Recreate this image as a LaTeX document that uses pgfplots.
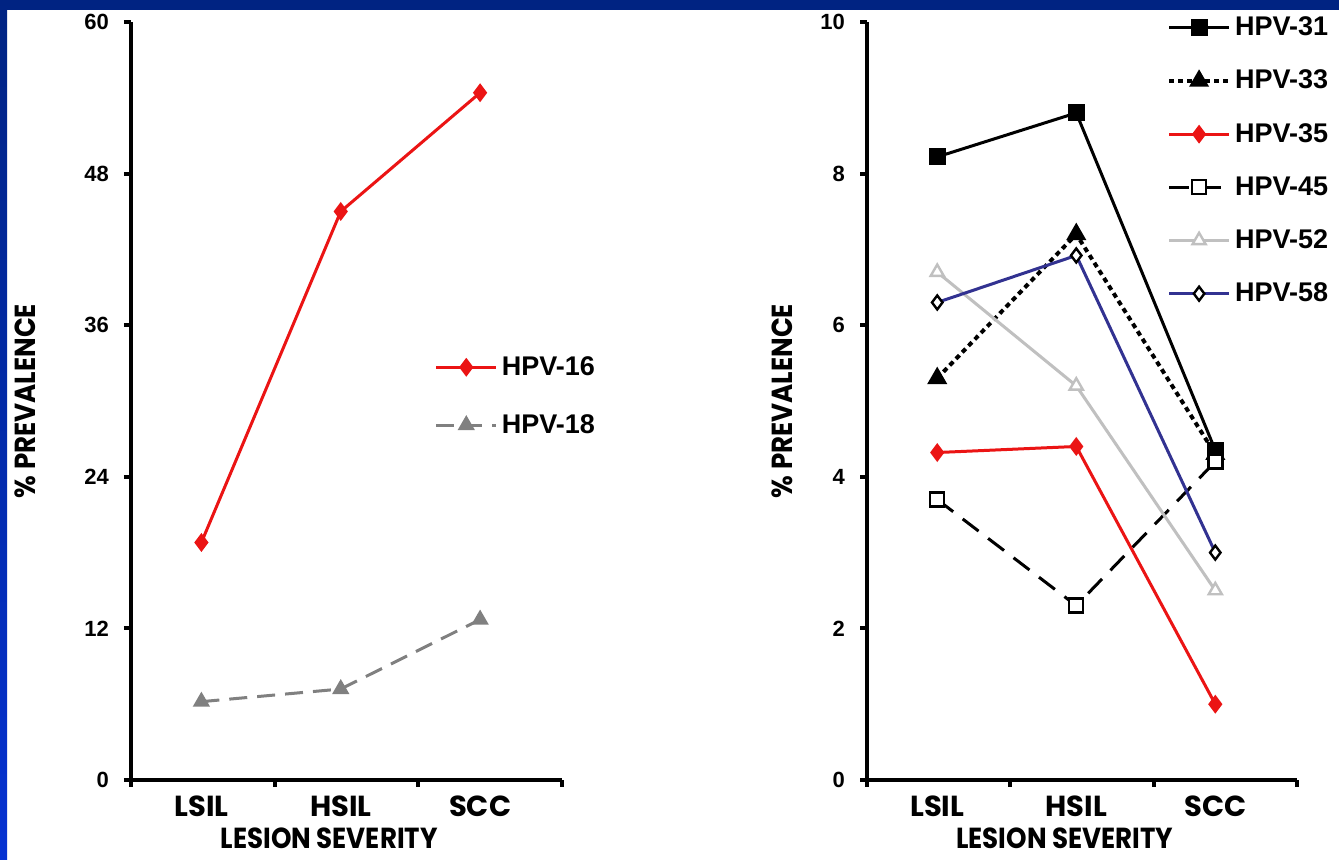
\documentclass[border=0pt]{standalone}
\usepackage{pgfplots}
\pgfplotsset{compat=1.18}
\usepackage{fontspec}
\setmainfont{Liberation Sans}
\newfontfamily\gothic{Poppins}
\newfontfamily\gothicnarrow[FakeStretch=0.9]{Poppins}
\newcommand\labelfont{\gothicnarrow\bfseries\fontsize{14.5}{16}\selectfont}

\definecolor{hpvred}{RGB}{235,20,20}
\definecolor{hpvgray}{RGB}{128,128,128}
\definecolor{hpvlight}{RGB}{192,192,192}
\definecolor{hpvnavy}{RGB}{50,50,145}
\definecolor{slidetop}{RGB}{0,35,130}
\definecolor{slideleft}{RGB}{5,50,210}

\pgfplotsset{
  hpvaxis/.style={
    scale only axis,
    axis lines=left,
    axis line style={line width=2pt,-},
    x axis line style={shorten <=-3pt},
    xmin=0, xmax=3,
    xtick={0,1,2,3}, xticklabels={,,,},
    extra x ticks={0.49,1.46,2.43},
    extra x tick labels={LSIL,HSIL,SCC},
    extra x tick style={tick style={draw=none}},
    tick style={line width=2pt,black},
    major tick length=3.5pt,
    tick align=outside,
    x tick label style={font=\gothic\bfseries\fontsize{14.5}{16}\selectfont, yshift=-1pt},
    y tick label style={font=\bfseries\fontsize{11}{13}\selectfont, xshift=-4pt},
    /pgf/number format/assume math mode=true,
    xlabel={LESION SEVERITY},
    ylabel={\% PREVALENCE},
    every axis x label/.style={at={(axis description cs:0.46,-0.077)},anchor=center,inner sep=0pt,font=\labelfont},
    clip=false,
    legend cell align=left,
    legend style={draw=none,fill=none,font=\bfseries\fontsize{13.5}{15}\selectfont},
    legend image code/.code={\draw[mark repeat=2,mark phase=2] plot coordinates {(0pt,0pt) (15pt,0pt) (30pt,0pt)};},
  }
}

\begin{document}
\begin{tikzpicture}
\useasboundingbox (0,0) rectangle (669.5pt,430pt);
\fill[white] (0,0) rectangle (669.5pt,430pt);
\fill[slidetop] (0,425pt) rectangle (669.5pt,430pt);
\shade[top color=slidetop, bottom color=slideleft] (0,0) rectangle (3.5pt,430pt);

% left panel: HPV-16 and HPV-18
\begin{axis}[hpvaxis,
  at={(65.5pt,40pt)}, anchor=south west,
  width=215.5pt, height=379pt,
  ymin=0, ymax=60, ytick={0,12,24,36,48,60},
  every axis y label/.style={at={(axis description cs:-0.246,0.5)},rotate=90,anchor=center,font=\labelfont},
  legend style={at={(axis description cs:0.69,0.57)},anchor=north west,row sep=14pt},
]
\addplot[color=hpvred, line width=1.5pt, mark=diamond*, mark size=3.5pt]
  coordinates {(0.49,18.8) (1.46,45.0) (2.43,54.4)};
\addlegendentry{HPV-16}
\addplot[color=hpvgray, line width=1.5pt, dash pattern=on 9pt off 5pt, mark=triangle*, mark size=3.5pt, mark options={solid}]
  coordinates {(0.49,6.2) (1.46,7.2) (2.43,12.7)};
\addlegendentry{HPV-18}
\end{axis}

% right panel: other types
\begin{axis}[hpvaxis,
  at={(433.5pt,40pt)}, anchor=south west,
  width=215pt, height=379pt,
  ymin=0, ymax=10, ytick={0,2,4,6,8,10},
  every axis y label/.style={at={(axis description cs:-0.198,0.5)},rotate=90,anchor=center,font=\labelfont},
  legend style={at={(axis description cs:0.683,1.018)},anchor=north west,row sep=11.7pt},
]
\addplot[color=black, line width=1.5pt, mark=square*, mark size=3.5pt]
  coordinates {(0.49,8.22) (1.46,8.8) (2.43,4.35)};
\addlegendentry{HPV-31}
\addplot[color=black, line width=2pt, dash pattern=on 2.5pt off 2pt, mark=triangle*, mark size=3.8pt, mark options={solid}]
  coordinates {(0.49,5.3) (1.46,7.2) (2.43,4.3)};
\addlegendentry{HPV-33}
\addplot[color=hpvred, line width=1.5pt, mark=diamond*, mark size=3.5pt]
  coordinates {(0.49,4.32) (1.46,4.4) (2.43,1.0)};
\addlegendentry{HPV-35}
\addplot[color=black, line width=1.5pt, dash pattern=on 10pt off 6pt, mark=square*, mark size=3.5pt, mark options={solid,fill=white,draw=black,line width=1.2pt}]
  coordinates {(0.49,3.7) (1.46,2.3) (2.43,4.2)};
\addlegendentry{HPV-45}
\addplot[color=hpvlight, line width=1.5pt, mark=triangle*, mark size=3.8pt, mark options={fill=white,draw=hpvlight,line width=1.2pt}]
  coordinates {(0.49,6.7) (1.46,5.2) (2.43,2.5)};
\addlegendentry{HPV-52}
\addplot[color=hpvnavy, line width=1.5pt, mark=diamond*, mark size=3.5pt, mark options={fill=white,draw=black,line width=1.2pt}]
  coordinates {(0.49,6.3) (1.46,6.92) (2.43,3.0)};
\addlegendentry{HPV-58}
\end{axis}
\end{tikzpicture}
\end{document}
